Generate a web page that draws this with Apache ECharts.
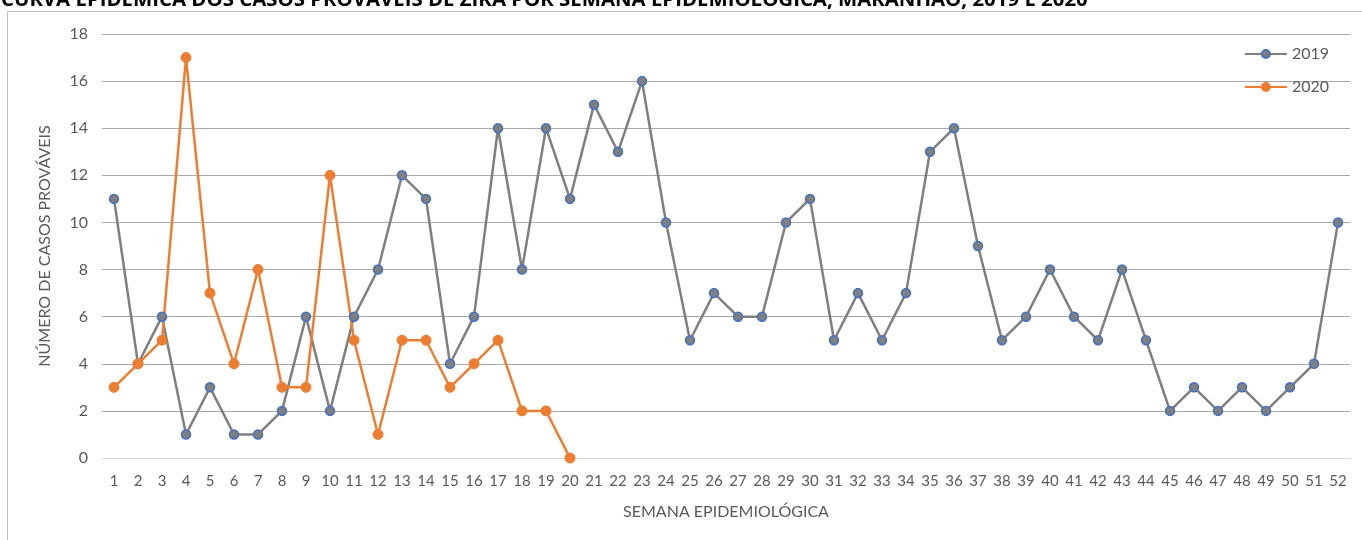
<!DOCTYPE html>
<html>
<head>
<meta charset="utf-8">
<script src="https://cdn.jsdelivr.net/npm/echarts@6/dist/echarts.min.js"></script>
<style>
  html, body { margin: 0; padding: 0; background: #fff; }
  #chart { width: 1362px; height: 540px; }
</style>
</head>
<body>
<div id="chart"></div>
<script>
var semanas = [];
for (var i = 1; i <= 52; i++) semanas.push(String(i));

var casos2019 = [11, 4, 6, 1, 3, 1, 1, 2, 6, 2, 6, 8, 12, 11, 4, 6, 14, 8, 14, 11,
  15, 13, 16, 10, 5, 7, 6, 6, 10, 11, 5, 7, 5, 7, 13, 14, 9, 5, 6, 8,
  6, 5, 8, 5, 2, 3, 2, 3, 2, 3, 4, 10];
var casos2020 = [3, 4, 5, 17, 7, 4, 8, 3, 3, 12, 5, 1, 5, 5, 3, 4, 5, 2, 2, 0];

var titulo = 'CURVA EPIDÊMICA DOS CASOS PROVÁVEIS DE ZIKA POR SEMANA EPIDEMIOLÓGICA, MARANHÃO, 2019 E 2020';
var fonte = 'Lato, "Liberation Sans", sans-serif';

var chart = echarts.init(document.getElementById('chart'));

var option = {
  animation: false,
  textStyle: { fontFamily: fonte },
  title: {
    text: titulo,
    left: -4,
    top: -15,
    textStyle: { fontSize: 20.4, fontWeight: 'bold', color: '#000', fontFamily: '"Open Sans", sans-serif' }
  },
  graphic: [{
    type: 'rect',
    shape: { x: 7.5, y: 11.5, width: 1400, height: 600 },
    style: { fill: null, stroke: '#bfbfbf', lineWidth: 1 },
    silent: true
  }],
  legend: {
    orient: 'vertical',
    right: 28,
    top: 41,
    itemGap: 17,
    itemWidth: 42,
    itemHeight: 10,
    textStyle: { fontSize: 16, color: '#595959' },
    data: ['2019', '2020']
  },
  grid: { left: 102, width: 1248, top: 34, height: 424 },
  xAxis: {
    type: 'category',
    data: semanas,
    boundaryGap: true,
    name: 'SEMANA EPIDEMIOLÓGICA',
    nameLocation: 'middle',
    nameGap: 46,
    nameTextStyle: { fontSize: 16, color: '#595959' },
    axisLine: { lineStyle: { color: '#d9d9d9', width: 1 } },
    axisTick: { show: false },
    axisLabel: { fontSize: 15, color: '#595959', margin: 16, interval: 0 }
  },
  yAxis: {
    type: 'value',
    min: 0,
    max: 18,
    interval: 2,
    name: 'NÚMERO DE CASOS PROVÁVEIS',
    nameLocation: 'middle',
    nameGap: 49,
    nameRotate: 90,
    nameTextStyle: { fontSize: 16, color: '#595959' },
    axisLine: { show: false },
    axisTick: { show: false },
    axisLabel: { fontSize: 16, color: '#595959', margin: 14 },
    splitLine: { lineStyle: { color: '#aaaaaa', width: 1 } }
  },
  series: [
    {
      name: '2019',
      type: 'line',
      data: casos2019,
      symbol: 'circle',
      symbolSize: 9,
      lineStyle: { color: '#7f7f7f', width: 2.5 },
      itemStyle: { color: '#7f7f7f', borderColor: '#4472c4', borderWidth: 1.5 }
    },
    {
      name: '2020',
      type: 'line',
      data: casos2020,
      symbol: 'circle',
      symbolSize: 10,
      lineStyle: { color: '#ed7d31', width: 2.5 },
      itemStyle: { color: '#ed7d31', borderColor: '#ed7d31', borderWidth: 1 }
    }
  ]
};

chart.setOption(option);
</script>
</body>
</html>
